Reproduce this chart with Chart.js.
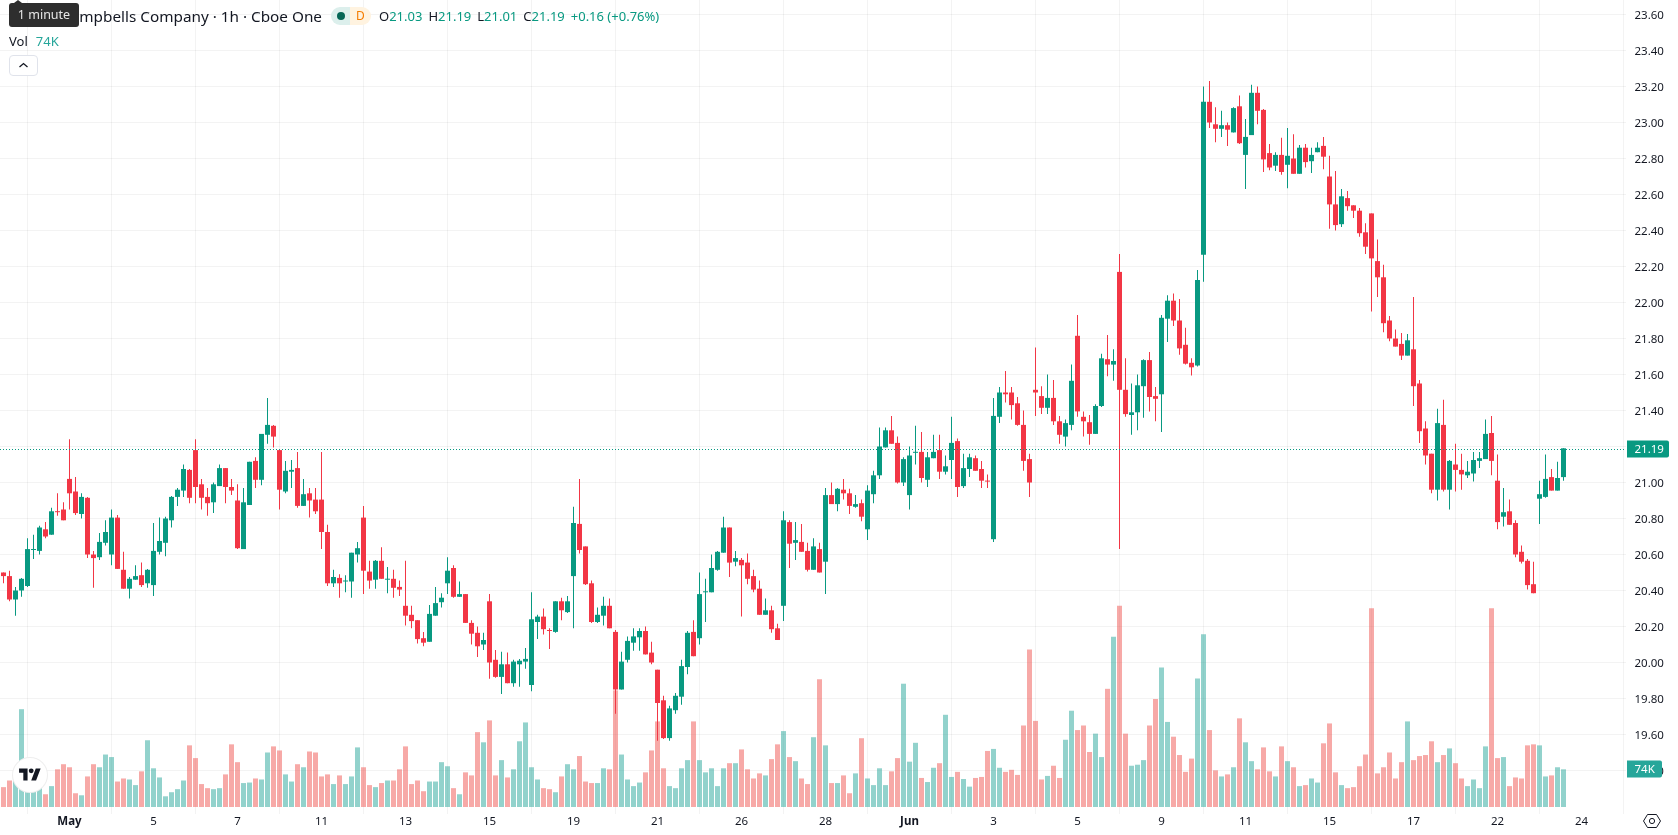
<!DOCTYPE html>
<html>
<head>
<meta charset="utf-8">
<title>Campbells Company 1h</title>
<script src="https://cdn.jsdelivr.net/npm/chart.js@4"></script>
<style>
  html, body { margin: 0; padding: 0; background: #fff; overflow: hidden; }
  #wrap { position: relative; width: 1678px; height: 835px; font-family: "Noto Sans", sans-serif; color: #131722; }
  canvas { display: block; }
  .abs { position: absolute; white-space: nowrap; }
  .up { color: #089981; }
  #title { right: calc(1678px - 322px); top: 5px; font-size: 15.3px; line-height: 22px; }
  #tip { left: 9px; top: 3px; width: 70px; height: 24px; background: #2e2e2e; color: #e6e6e6; border-radius: 3px; font-size: 12.5px; line-height: 24px; text-align: center; }
  #tipArrow { left: 14px; top: 0; width: 0; height: 0; border-left: 4px solid transparent; border-right: 4px solid transparent; border-bottom: 3px solid #2e2e2e; }
  #pillA { left: 331px; top: 7px; width: 19px; height: 18px; background: #dcefec; border-radius: 9px 0 0 9px; }
  #pillA i { position: absolute; left: 6px; top: 5px; width: 8px; height: 8px; border-radius: 50%; background: #056656; }
  #pillB { left: 350px; top: 7px; width: 21px; height: 18px; background: #fff3e0; border-radius: 0 9px 9px 0; color: #f57c00; font-size: 12px; line-height: 18px; text-align: center; }
  #ohlc { left: 379px; top: 5px; font-size: 13px; line-height: 22px; }
  #ohlc span { margin-right: 6px; }
  #vol { left: 9px; top: 30px; font-size: 13px; line-height: 22px; }
  #vol b { font-weight: 400; color: #26a69a; margin-left: 8px; }
  #chev { left: 9px; top: 55px; width: 27px; height: 19px; border: 1px solid #e0e3eb; border-radius: 4px; background: #fff; }
  #logo { left: 13px; top: 758px; width: 34px; height: 34px; border-radius: 50%; background: #fff; box-shadow: 0 0 0 1px #eeeeee; }
  #gear { left: 1642px; top: 811px; }
</style>
</head>
<body>
<div id="wrap">
  <canvas id="chart" width="1678" height="835"></canvas>
  <div class="abs" id="title">The Campbells Company · 1h · Cboe One</div>
  <div class="abs" id="tipArrow"></div>
  <div class="abs" id="tip">1 minute</div>
  <div class="abs" id="pillA"><i></i></div>
  <div class="abs" id="pillB">D</div>
  <div class="abs" id="ohlc"><span>O<b class="up" style="font-weight:400">21.03</b></span><span>H<b class="up" style="font-weight:400">21.19</b></span><span>L<b class="up" style="font-weight:400">21.01</b></span><span>C<b class="up" style="font-weight:400">21.19</b></span><span class="up">+0.16 (+0.76%)</span></div>
  <div class="abs" id="vol">Vol<b>74K</b></div>
  <div class="abs" id="chev"><svg width="27" height="19" viewBox="0 0 27 19"><path d="M9.5 11 L13.5 7.5 L17.5 11" fill="none" stroke="#131722" stroke-width="1.3"/></svg></div>
  <div class="abs" id="logo"><svg style="position:absolute;left:6px;top:8px" width="22" height="17" viewBox="0 0 36 28"><path fill="#131722" d="M14 24H7V11H0V4h14v20zM28 24h-8l7.5-20h8L28 24z"/><circle fill="#131722" cx="20" cy="8" r="4"/></svg></div>
  <div class="abs" id="gear"><svg width="20" height="20" viewBox="0 0 20 20"><path d="M5.5 3.5 H14.5 L18.5 10 L14.5 16.5 H5.5 L1.5 10 Z" fill="none" stroke="#131722" stroke-width="1"/><circle cx="10" cy="10" r="2.6" fill="none" stroke="#131722" stroke-width="1"/></svg></div>
</div>
<script>
// Hourly OHLC bars and share volume (thousands), oldest first.
const opens = [
20.50,20.48,20.35,20.40,20.425,20.625,20.62,20.74,20.71,20.84,
20.85,21.02,20.95,20.825,20.915,20.60,20.585,20.665,20.60,20.805,
20.515,20.41,20.46,20.485,20.44,20.43,20.615,20.665,20.79,20.92,
20.955,21.07,21.18,20.99,20.92,20.89,20.98,21.08,20.975,20.90,
20.63,20.875,21.12,21.015,21.265,21.315,21.18,20.95,21.06,21.08,
20.87,20.94,20.905,20.905,20.725,20.44,20.47,20.45,20.45,20.60,
20.805,20.505,20.46,20.565,20.46,20.465,20.42,20.315,20.265,20.235,
20.135,20.115,20.26,20.335,20.44,20.525,20.365,20.38,20.22,20.165,
20.10,20.34,20.015,19.92,19.99,19.885,19.99,20.005,19.875,20.225,
20.255,20.18,20.17,20.34,20.28,20.48,20.77,20.645,20.44,20.225,
20.26,20.315,20.17,19.85,20.015,20.11,20.14,20.175,20.055,19.96,
19.79,19.58,19.735,19.81,19.975,20.17,20.135,20.39,20.39,20.515,
20.61,20.75,20.56,20.57,20.555,20.48,20.41,20.265,20.29,20.19,
20.315,20.78,20.665,20.67,20.62,20.515,20.63,20.56,20.93,20.88,
20.96,20.94,20.865,20.885,20.74,20.935,21.04,21.195,21.29,21.22,
21.00,20.93,21.165,21.17,21.015,21.135,21.18,21.06,21.125,21.23,
20.98,21.075,21.135,21.075,21.01,20.685,21.365,21.50,21.50,21.44,
21.32,21.13,21.515,21.48,21.415,21.47,21.34,21.255,21.32,21.815,
21.365,21.335,21.27,21.425,21.685,21.655,22.17,21.515,21.375,21.39,
21.535,21.68,21.48,21.49,21.91,22.01,21.90,21.765,21.665,21.65,
22.265,23.115,22.99,22.965,22.985,22.945,23.09,22.82,22.93,23.165,
23.07,22.83,22.76,22.82,22.765,22.80,22.715,22.86,22.785,22.835,
22.87,22.70,22.545,22.435,22.58,22.54,22.51,22.39,22.495,22.23,
22.14,21.90,21.80,21.77,21.705,21.74,21.55,21.30,21.16,20.96,
21.32,20.96,21.10,21.07,21.04,21.05,21.12,21.13,21.275,21.01,
20.81,20.84,20.775,20.615,20.565,20.435,20.91,20.92,21.03,20.955,
21.03];
const highs = [
20.50,20.51,20.42,20.47,20.69,20.71,20.76,20.78,20.86,20.94,
20.89,21.24,21.03,20.94,20.92,20.62,20.72,20.79,20.85,20.82,
20.615,20.475,20.54,20.555,20.52,20.775,20.805,20.81,20.925,20.97,
21.10,21.075,21.24,21.02,20.97,21.00,21.10,21.08,21.02,20.99,
20.97,21.115,21.14,21.27,21.47,21.32,21.18,21.12,21.125,21.17,
21.02,20.97,20.97,21.17,20.765,20.515,20.49,20.485,20.61,20.67,
20.87,20.565,20.57,20.64,20.53,20.515,20.455,20.565,20.315,20.235,
20.17,20.32,20.42,20.385,20.585,20.54,20.45,20.38,20.235,20.20,
20.165,20.38,20.07,20.06,20.055,20.015,20.02,20.08,20.39,20.265,
20.30,20.19,20.34,20.36,20.37,20.865,21.02,20.645,20.455,20.305,
20.365,20.355,20.18,20.06,20.145,20.19,20.19,20.20,20.115,19.96,
19.815,19.76,19.83,20.015,20.175,20.235,20.50,20.465,20.60,20.62,
20.81,20.75,20.62,20.58,20.605,20.515,20.455,20.355,20.315,20.215,
20.84,20.79,20.78,20.77,20.665,20.69,20.665,20.97,21.00,20.97,
21.02,20.965,20.93,20.905,20.985,21.065,21.305,21.305,21.37,21.255,
21.14,21.20,21.315,21.28,21.17,21.265,21.265,21.15,21.365,21.245,
21.16,21.16,21.15,21.12,21.045,21.47,21.53,21.62,21.53,21.475,
21.40,21.16,21.75,21.535,21.60,21.57,21.37,21.35,21.655,21.93,
21.395,21.375,21.435,21.715,21.82,21.74,22.27,21.69,21.55,21.60,
21.685,21.725,21.53,21.93,22.04,22.05,22.02,21.86,21.69,22.18,
23.20,23.23,23.085,23.065,23.00,23.085,23.15,23.02,23.21,23.20,
23.075,22.88,22.835,22.915,22.97,22.935,22.875,22.88,22.86,22.89,
22.92,22.815,22.73,22.63,22.62,22.54,22.525,22.44,22.495,22.35,
22.21,21.925,21.85,21.83,21.825,22.03,21.57,21.34,21.16,21.41,
21.46,21.125,21.215,21.16,21.12,21.17,21.17,21.35,21.37,21.155,
20.97,20.905,20.79,20.65,20.575,20.56,21.01,21.155,21.075,21.115,
21.19];
const lows = [
20.44,20.34,20.26,20.365,20.42,20.575,20.60,20.69,20.71,20.815,
20.79,20.85,20.82,20.80,20.58,20.415,20.57,20.65,20.54,20.52,
20.41,20.355,20.46,20.42,20.415,20.37,20.60,20.59,20.75,20.87,
20.92,20.885,20.885,20.85,20.815,20.83,20.98,20.885,20.93,20.63,
20.63,20.875,20.97,20.985,21.215,21.195,20.85,20.94,20.97,20.86,
20.87,20.805,20.825,20.63,20.425,20.42,20.36,20.39,20.36,20.555,
20.38,20.41,20.41,20.465,20.385,20.36,20.37,20.205,20.19,20.105,
20.09,20.115,20.26,20.305,20.38,20.36,20.365,20.22,20.10,20.03,
20.07,19.91,19.915,19.825,19.885,19.865,19.865,19.965,19.84,20.13,
20.155,20.075,20.165,20.235,20.275,20.19,20.605,20.43,20.22,20.22,
20.205,20.19,19.715,19.85,20.00,20.065,20.065,20.045,19.99,19.565,
19.575,19.565,19.715,19.765,19.935,20.035,20.10,20.225,20.39,20.51,
20.61,20.475,20.535,20.255,20.435,20.39,20.265,20.265,20.165,20.125,
20.23,20.525,20.57,20.615,20.505,20.515,20.50,20.38,20.88,20.84,
20.905,20.825,20.86,20.785,20.68,20.885,21.02,21.195,21.215,20.995,
20.98,20.85,21.10,21.00,20.975,21.135,21.02,21.045,21.02,20.92,
20.97,21.03,21.065,20.97,20.97,20.67,21.33,21.445,21.35,21.315,
21.065,20.92,21.37,21.38,21.38,21.32,21.215,21.20,21.29,21.365,
21.255,21.21,21.27,21.42,21.59,21.565,20.63,21.365,21.265,21.29,
21.36,21.395,21.34,21.28,21.78,21.87,21.71,21.655,21.595,21.645,
22.115,22.97,22.89,22.92,22.87,22.945,22.88,22.63,22.93,22.99,
22.725,22.735,22.73,22.71,22.635,22.715,22.715,22.75,22.72,22.835,
22.74,22.41,22.40,22.42,22.51,22.47,22.365,22.27,21.95,22.03,
21.835,21.785,21.755,21.68,21.705,21.425,21.22,21.10,20.94,20.90,
20.95,20.85,20.95,20.96,21.025,21.005,21.08,21.13,21.04,20.74,
20.755,20.765,20.585,20.55,20.405,20.385,20.77,20.915,20.955,20.955,
21.01];
const closes = [
20.48,20.35,20.40,20.465,20.63,20.63,20.75,20.70,20.84,20.835,
20.79,20.94,20.83,20.92,20.60,20.58,20.67,20.725,20.805,20.52,
20.41,20.465,20.48,20.43,20.515,20.62,20.675,20.80,20.92,20.96,
21.075,20.915,20.975,20.915,20.885,20.99,21.08,20.975,20.955,20.635,
20.89,21.115,21.015,21.27,21.32,21.255,20.96,21.065,21.07,20.87,
20.935,20.90,20.84,20.725,20.44,20.475,20.44,20.455,20.61,20.635,
20.51,20.455,20.565,20.465,20.465,20.415,20.405,20.26,20.23,20.13,
20.11,20.27,20.33,20.36,20.51,20.365,20.38,20.22,20.16,20.09,
20.125,20.00,19.92,19.99,19.885,20.005,20.01,20.02,20.24,20.255,
20.185,20.175,20.34,20.29,20.34,20.775,20.625,20.435,20.225,20.265,
20.315,20.19,19.85,20.005,20.12,20.145,20.175,20.045,20.00,19.775,
19.58,19.745,19.815,19.98,20.165,20.035,20.38,20.395,20.525,20.615,
20.75,20.555,20.58,20.54,20.465,20.405,20.265,20.29,20.185,20.125,
20.79,20.66,20.68,20.615,20.515,20.645,20.50,20.93,20.88,20.965,
20.94,20.87,20.88,20.81,20.955,21.04,21.20,21.29,21.215,21.00,
21.13,21.15,21.17,21.025,21.14,21.17,21.06,21.09,21.22,20.975,
21.08,21.14,21.065,21.01,21.005,21.37,21.50,21.49,21.43,21.32,
21.12,21.00,21.50,21.415,21.47,21.34,21.265,21.33,21.565,21.395,
21.34,21.27,21.425,21.69,21.655,21.675,21.515,21.38,21.39,21.54,
21.68,21.475,21.465,21.915,22.01,21.90,21.745,21.66,21.64,22.125,
23.115,23.00,22.965,22.985,22.96,23.08,22.885,22.92,23.165,23.065,
22.795,22.75,22.82,22.725,22.815,22.715,22.86,22.78,22.82,22.86,
22.81,22.545,22.43,22.59,22.535,22.51,22.385,22.31,22.245,22.14,
21.885,21.80,21.755,21.705,21.79,21.535,21.285,21.15,20.96,21.33,
20.96,21.12,21.07,21.045,21.06,21.125,21.135,21.27,21.12,20.78,
20.835,20.765,20.60,20.56,20.43,20.385,20.935,21.02,20.955,21.025,
21.19];
const volumes = [
39,52,55,192,59,33,46,25,41,74,
84,78,27,23,60,84,78,103,98,50,
56,54,43,70,131,76,58,21,29,35,
52,121,96,45,37,35,37,64,123,88,
47,48,56,54,107,119,111,64,50,84,
78,109,107,60,64,45,62,45,60,117,
78,43,39,47,52,52,74,119,45,52,
31,50,50,88,80,37,25,68,62,147,
127,170,62,92,58,74,129,166,78,54,
37,35,29,60,84,74,100,50,47,47,
76,74,229,103,54,41,48,68,111,168,
76,41,37,76,92,168,92,68,76,41,
76,86,86,113,74,56,66,62,94,123,
149,98,90,56,45,137,251,121,47,47,
62,27,66,135,56,43,76,43,70,96,
242,89,126,57,49,77,86,181,59,69,
55,40,57,59,110,114,77,69,73,63,
160,309,169,54,61,81,57,132,189,151,
160,108,144,98,232,334,395,144,81,83,
92,160,212,274,167,138,102,69,95,252,
339,151,72,60,64,78,174,127,90,74,
117,70,60,119,90,78,41,43,56,48,
125,164,68,43,37,39,80,103,390,66,
78,107,56,88,168,92,100,102,129,88,
102,115,86,56,41,54,37,119,390,96,
98,41,58,56,121,123,121,60,62,78,
74];

// Time axis: bar index of each labelled session and the text shown there.
const timeTickBars = [11,25,39,53,67,81,95,109,123,137,151,165,179,193,207,221,235,249,263];
const timeTickLabels = ['May','5','7','11','13','15','19','21','26','28','Jun','3','5','9','11','15','17','22','24'];
const priceTicks = [23.6,23.4,23.2,23.0,22.8,22.6,22.4,22.2,22.0,21.8,21.6,21.4,21.2,21.0,20.8,20.6,20.4,20.2,20.0,19.8,19.6,19.4];
const lastPrice = closes[closes.length - 1];
const lastVolume = volumes[volumes.length - 1];

const UP = '#089981', DOWN = '#f23645';
const VOL_UP = 'rgba(38,166,154,0.5)', VOL_DOWN = 'rgba(239,83,80,0.5)';
const GRID = 'rgba(46,46,46,0.06)';
const FONT = '"Noto Sans", sans-serif';
const isUp = i => closes[i] >= opens[i];

function badge(ctx, right, y, w, h, fill, text) {
  const x = right;
  ctx.fillStyle = fill;
  ctx.beginPath();
  ctx.roundRect(x, y - h / 2, w, h, [0, 2, 2, 0]);
  ctx.fill();
  ctx.fillStyle = '#fff';
  ctx.textAlign = 'left';
  ctx.textBaseline = 'middle';
  ctx.font = '11.5px ' + FONT;
  ctx.fillText(text, x + 7.5, y + 0.5);
}

// Dotted last-price line plus the value tags sitting on the price axis.
const lastValueMarkers = {
  id: 'lastValueMarkers',
  afterDatasetsDraw(chart) {
    const { ctx, chartArea, scales } = chart;
    const y = Math.ceil(scales.y.getPixelForValue(lastPrice)) + 0.5;
    ctx.save();
    ctx.strokeStyle = UP;
    ctx.lineWidth = 1;
    ctx.setLineDash([1, 2]);
    ctx.beginPath();
    ctx.moveTo(chartArea.left, y);
    ctx.lineTo(chartArea.right, y);
    ctx.stroke();
    ctx.restore();
  },
  afterDraw(chart) {
    const { ctx, chartArea, scales } = chart;
    ctx.save();
    badge(ctx, chartArea.right + 1, Math.ceil(scales.y.getPixelForValue(lastPrice)), 42, 17, UP, lastPrice.toFixed(2));
    badge(ctx, chartArea.right + 1, Math.round(scales.yVol.getPixelForValue(lastVolume)), 35, 17, '#26a69a', lastVolume + 'K');
    ctx.restore();
  }
};

// Axis labels may not pull the plot inward: the plot runs to the canvas edges.
function noEdgePadding(s) {
  s.paddingLeft = 0; s.paddingRight = 0; s.paddingTop = 0; s.paddingBottom = 0;
}

const bars = opens.map((_, i) => i);

new Chart(document.getElementById('chart'), {
  type: 'bar',
  plugins: [lastValueMarkers],
  data: {
    datasets: [
      {
        label: 'Body', order: 1, yAxisID: 'y', barThickness: 5, minBarLength: 1,
        data: bars.map(i => ({ x: i, y: [Math.min(opens[i], closes[i]), Math.max(opens[i], closes[i])] })),
        backgroundColor: bars.map(i => isUp(i) ? UP : DOWN)
      },
      {
        label: 'Wick', order: 2, yAxisID: 'y', barThickness: 1,
        data: bars.map(i => ({ x: i, y: [lows[i], highs[i]] })),
        backgroundColor: bars.map(i => isUp(i) ? UP : DOWN)
      },
      {
        label: 'Vol', order: 3, yAxisID: 'yVol', barThickness: 5,
        data: bars.map(i => ({ x: i, y: volumes[i] })),
        backgroundColor: bars.map(i => isUp(i) ? VOL_UP : VOL_DOWN)
      }
    ]
  },
  options: {
    responsive: false,
    animation: false,
    events: [],
    layout: { padding: 0 },
    datasets: { bar: { grouped: false, borderWidth: 0, inflateAmount: 0 } },
    plugins: { legend: { display: false }, tooltip: { enabled: false } },
    scales: {
      x: {
        type: 'linear',
        offset: false,
        min: -0.58333,
        max: 270.41667,
        afterBuildTicks: s => { s.ticks = timeTickBars.map(v => ({ value: v })); },
        afterFit: s => { s.height = 21; noEdgePadding(s); },
        border: { display: false },
        grid: { color: GRID, drawTicks: false },
        ticks: {
          autoSkip: false, maxRotation: 0, includeBounds: false, padding: 1, color: '#131722',
          callback: v => timeTickLabels[timeTickBars.indexOf(v)],
          font: c => ({ family: FONT, size: 11.5, weight: (c.index === 0 || c.index === 10) ? '700' : '400' })
        }
      },
      y: {
        position: 'right',
        min: 19.15833,
        max: 23.68056,
        afterBuildTicks: s => { s.ticks = priceTicks.map(v => ({ value: v })); },
        afterFit: s => { s.width = 52; noEdgePadding(s); },
        border: { display: false },
        grid: { color: GRID, drawTicks: false },
        ticks: {
          autoSkip: false, includeBounds: false, padding: 8.5, labelOffset: 1, color: '#131722',
          callback: v => v.toFixed(2),
          font: { family: FONT, size: 11.5 }
        }
      },
      yVol: {
        display: false,
        min: -13.74,
        max: 1584.1,
        afterFit: noEdgePadding,
        grid: { display: false }
      }
    }
  }
});
</script>
</body>
</html>
